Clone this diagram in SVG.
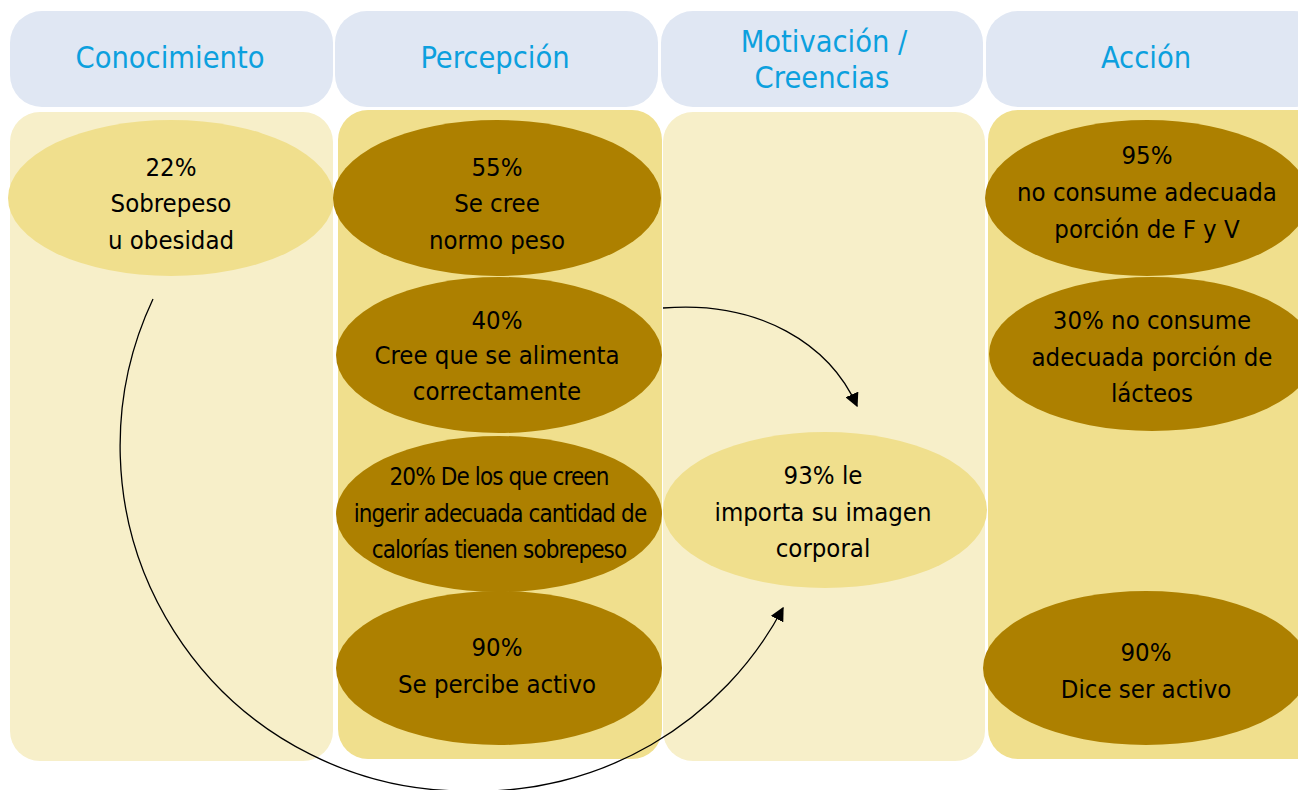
<svg xmlns="http://www.w3.org/2000/svg" width="1298" height="790" viewBox="0 0 1298 790">
<defs>
<style>
.hdr{fill:#E0E7F3}
.colL{fill:#F7EFC9}
.colD{fill:#F0DF8D}
.eL{fill:#F0DF8D}
.eD{fill:#AD8000}
.ht{font-family:"DejaVu Sans","Liberation Sans",sans-serif;font-stretch:condensed;font-size:30.5px;fill:#0CA0DE;text-anchor:middle}
.t{font-family:"DejaVu Sans","Liberation Sans",sans-serif;font-stretch:condensed;font-size:25.5px;fill:#000;text-anchor:middle}
.tn{font-family:"DejaVu Sans","Liberation Sans",sans-serif;font-stretch:condensed;font-size:24px;fill:#000;text-anchor:middle;letter-spacing:-0.9px}
.c{fill:none;stroke:#000;stroke-width:1.3}
</style>
<marker id="ah" viewBox="0 0 10 10" refX="9" refY="5" markerWidth="14" markerHeight="14" markerUnits="userSpaceOnUse" orient="auto">
<path d="M0,0 L10,5 L0,10 z" fill="#000"/>
</marker>
</defs>
<rect width="1298" height="790" fill="#fff"/>
<g id="headers">
<g id="h1"><rect class="hdr" x="10" y="11" width="323" height="96" rx="32"/><text class="ht" x="170" y="68">Conocimiento</text></g>
<g id="h2"><rect class="hdr" x="335" y="11" width="323" height="96" rx="32"/><text class="ht" x="495" y="68">Percepción</text></g>
<g id="h3"><rect class="hdr" x="661" y="11" width="322" height="96" rx="32"/><text class="ht" x="824" y="52">Motivación /</text><text class="ht" x="822" y="88">Creencias</text></g>
<g id="h4"><rect class="hdr" x="986" y="11" width="340" height="96" rx="32"/><text class="ht" x="1146" y="68">Acción</text></g>
</g>
<g id="columns">
<rect class="colL" x="10" y="112" width="323" height="649" rx="30"/>
<rect class="colD" x="338" y="110" width="324" height="649" rx="30"/>
<rect class="colL" x="663" y="112" width="322" height="649" rx="30"/>
<rect class="colD" x="988" y="110" width="340" height="649" rx="30"/>
</g>
<g id="n1"><ellipse class="eL" cx="171" cy="198" rx="163" ry="78"/>
<text class="t"><tspan x="171" y="176">22%</tspan><tspan x="171" y="212">Sobrepeso</tspan><tspan x="171" y="249">u obesidad</tspan></text></g>
<g id="n2"><ellipse class="eD" cx="497" cy="198" rx="164" ry="78"/>
<text class="t"><tspan x="497" y="176">55%</tspan><tspan x="497" y="212">Se cree</tspan><tspan x="497" y="249">normo peso</tspan></text></g>
<g id="n3"><ellipse class="eD" cx="499" cy="355" rx="163" ry="78"/>
<text class="t"><tspan x="497" y="329">40%</tspan><tspan x="497" y="364">Cree que se alimenta</tspan><tspan x="497" y="400">correctamente</tspan></text></g>
<g id="n4"><ellipse class="eD" cx="499" cy="514" rx="163" ry="78"/>
<text class="tn"><tspan x="499" y="485">20% De los que creen</tspan><tspan x="500" y="522">ingerir adecuada cantidad de</tspan><tspan x="499" y="558">calorías tienen sobrepeso</tspan></text></g>
<g id="n5"><ellipse class="eD" cx="499" cy="668" rx="163" ry="77"/>
<text class="t"><tspan x="497" y="656">90%</tspan><tspan x="497" y="693">Se percibe activo</tspan></text></g>
<g id="n6"><ellipse class="eL" cx="825" cy="510" rx="162" ry="78"/>
<text class="t"><tspan x="823" y="484">93% le</tspan><tspan x="823" y="521">importa su imagen</tspan><tspan x="823" y="557">corporal</tspan></text></g>
<g id="n7"><ellipse class="eD" cx="1147" cy="198" rx="162" ry="78"/>
<text class="t"><tspan x="1147" y="164">95%</tspan><tspan x="1147" y="201">no consume adecuada</tspan><tspan x="1147" y="238">porción de F y V</tspan></text></g>
<g id="n8"><ellipse class="eD" cx="1152" cy="354" rx="163" ry="77"/>
<text class="t"><tspan x="1152" y="329">30% no consume</tspan><tspan x="1152" y="366">adecuada porción de</tspan><tspan x="1152" y="402">lácteos</tspan></text></g>
<g id="n9"><ellipse class="eD" cx="1146" cy="668" rx="163" ry="77"/>
<text class="t"><tspan x="1146" y="661">90%</tspan><tspan x="1146" y="698">Dice ser activo</tspan></text></g>
<g id="connectors">
<path class="c" d="M663,308 C760,300 830,345 857,406" marker-end="url(#ah)"/>
<path class="c" d="M153,299 A345,345 0 0 0 467,791 A345,345 0 0 0 783,608" marker-end="url(#ah)"/>
</g>
</svg>
